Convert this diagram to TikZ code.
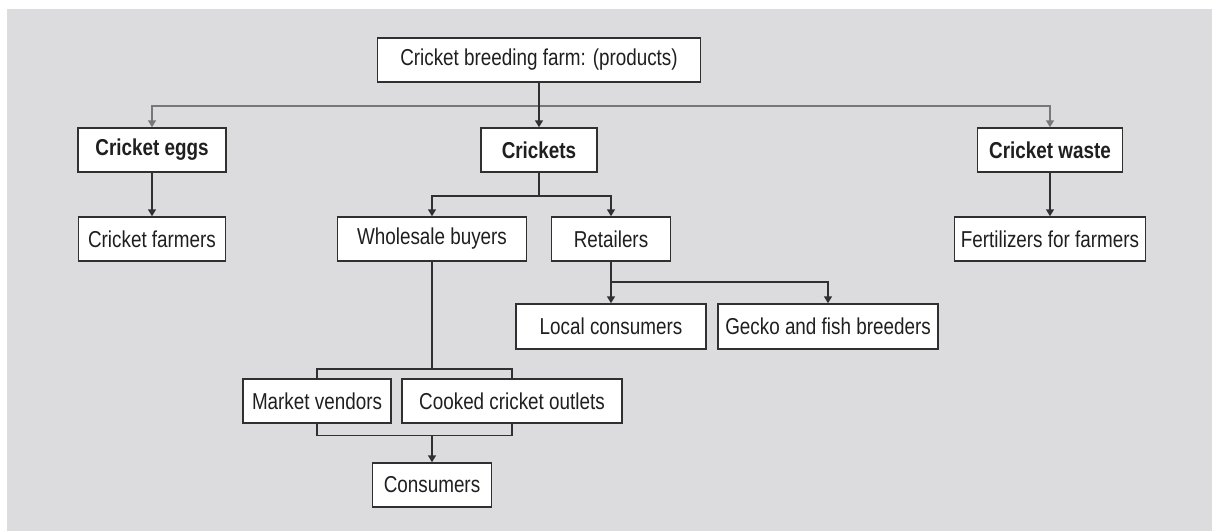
\documentclass[tikz,border=0pt]{standalone}
\usepackage{fontspec}
\setmainfont{Liberation Sans}[FakeStretch=0.82]
\usepackage{xcolor}
\usetikzlibrary{calc}
\usetikzlibrary{arrows, arrows.meta}

\definecolor{panelgray}{HTML}{DCDCDE}
\definecolor{linedark}{HTML}{303030}
\definecolor{linegray}{HTML}{787878}

\begin{document}
\begin{tikzpicture}[x=1pt, y=-1pt,
	prodbox/.style={draw=linedark, line width=1.5pt, fill=white, text=black!88,
		minimum height=44pt, inner sep=0pt, font=\fontsize{23}{26}\selectfont},
	headbox/.style={prodbox, font=\fontsize{23}{26}\selectfont\bfseries},
	flow/.style={line width=1.5pt, linedark, -{Triangle[length=7pt, width=8pt]}},
	link/.style={line width=1.5pt, linedark},
	topflow/.style={line width=1.5pt, linegray, -{Triangle[length=7pt, width=8pt]}}]

\useasboundingbox (0,0) rectangle (1212,531);
\fill[white] (0,0) rectangle (1212,531);
\fill[panelgray] (7,9) rectangle (1212,531);

\node[prodbox, minimum width=323pt] (farm) at (539,60) {Cricket breeding farm: (products)};

\node[headbox, minimum width=148pt] (eggs) at (152,150) {Cricket eggs};
\node[headbox, minimum width=116pt] (crickets) at (539,150) {Crickets};
\node[headbox, minimum width=145pt] (waste) at (1050,150) {Cricket waste};

\node[prodbox, minimum width=147pt] (cfarmers) at (152,239) {Cricket farmers};
\node[prodbox, minimum width=189pt] (wholesale) at (432,239) {Wholesale buyers};
\node[prodbox, minimum width=119pt] (retailers) at (611,239) {Retailers};
\node[prodbox, minimum width=191pt] (fert) at (1050,239) {Fertilizers for farmers};

\node[prodbox, minimum width=190pt, minimum height=45pt] (local) at (611,326.5) {Local consumers};
\node[prodbox, minimum width=220pt, minimum height=45pt] (gecko) at (828,326.5) {Gecko and fish breeders};

\node[prodbox, minimum width=148pt] (market) at (317,401) {Market vendors};
\node[prodbox, minimum width=220pt] (cooked) at (512,401) {Cooked cricket outlets};

\node[prodbox, minimum width=119pt] (consumers) at (432,485) {Consumers};

\coordinate (split) at (539,106);
\draw[topflow] (split) -| (eggs.north);
\draw[topflow] (split) -| (waste.north);
\draw[flow] (farm.south) -- (crickets.north);

\draw[flow] (eggs.south) -- (cfarmers.north);
\draw[flow] (waste.south) -- (fert.north);

\coordinate (crksplit) at ($(crickets.south)+(0,23)$);
\draw[link] (crickets.south) -- (crksplit);
\draw[flow] (crksplit) -| (wholesale.north);
\draw[flow] (crksplit) -| (retailers.north);

\coordinate (retsplit) at ($(retailers.south)+(0,20)$);
\draw[flow] (retailers.south) -- (local.north);
\draw[flow] (retsplit) -| (gecko.north);

\coordinate (wsplit) at ($(wholesale.south)+(0,107)$);
\draw[link] (wholesale.south) -- (wsplit);
\draw[link] (market.north) |- (wsplit) -| (cooked.north);

\coordinate (cjoin) at ($(consumers.north)+(0,-27)$);
\draw[link] (market.south) |- (cjoin) -| (cooked.south);
\draw[flow] (cjoin) -- (consumers.north);

\end{tikzpicture}
\end{document}
